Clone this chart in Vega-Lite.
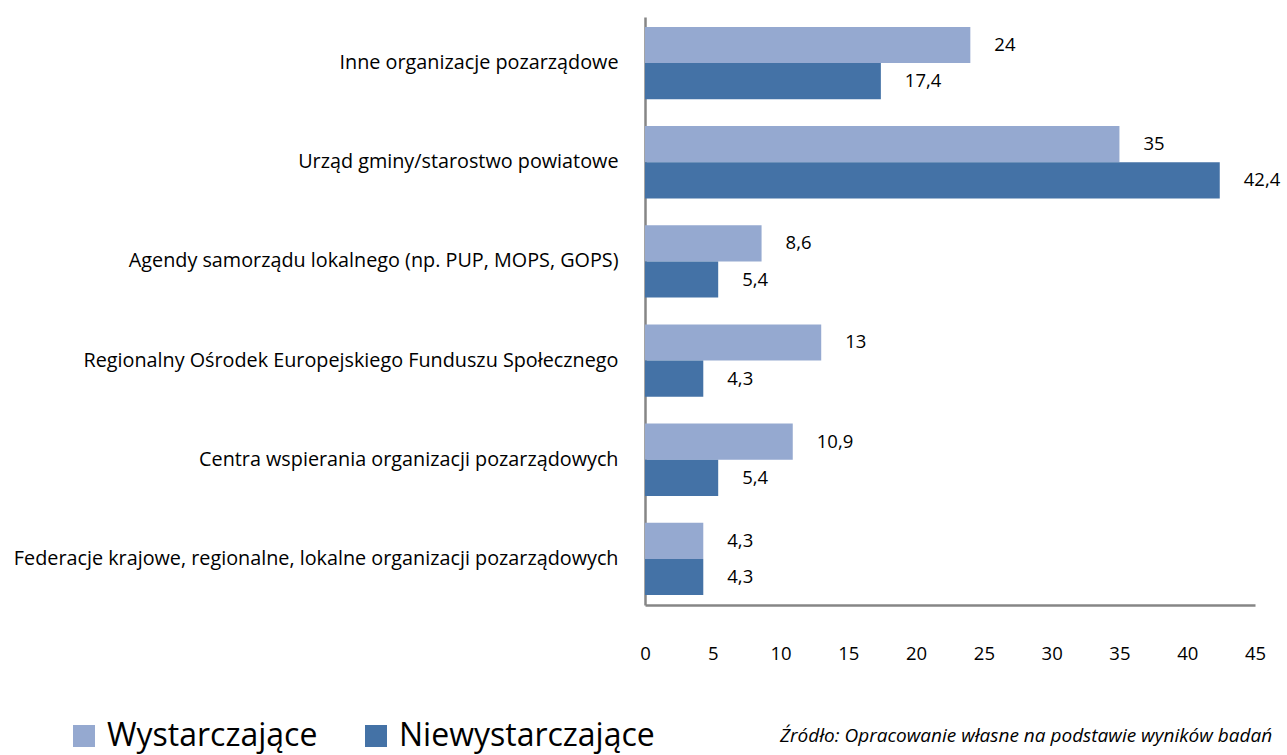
{
  "$schema": "https://vega.github.io/schema/vega-lite/v6.json",
  "autosize": {"type": "none"},
  "padding": {"left": 645, "top": 17, "right": 32, "bottom": 150},
  "width": 610,
  "height": 588,
  "background": "white",
  "config": {
    "view": {"stroke": null},
    "font": "Open Sans",
    "locale": {"number": {"decimal": ",", "thousands": " ", "grouping": [3], "currency": ["", " zł"]}}
  },
  "title": {
    "text": "Źródło: Opracowanie własne na podstawie wyników badań",
    "orient": "bottom",
    "anchor": "start",
    "frame": "group",
    "dx": 135,
    "offset": -16,
    "baseline": "middle",
    "font": "Open Sans",
    "fontSize": 19,
    "fontStyle": "italic",
    "fontWeight": "normal",
    "color": "#000000"
  },
  "data": {
    "values": [
      {"instytucja": "Inne organizacje pozarządowe ", "ocena": "Wystarczające", "wartosc": 24},
      {"instytucja": "Inne organizacje pozarządowe ", "ocena": "Niewystarczające", "wartosc": 17.4},
      {"instytucja": "Urząd gminy/starostwo powiatowe", "ocena": "Wystarczające", "wartosc": 35},
      {"instytucja": "Urząd gminy/starostwo powiatowe", "ocena": "Niewystarczające", "wartosc": 42.4},
      {"instytucja": "Agendy samorządu lokalnego (np. PUP, MOPS, GOPS)", "ocena": "Wystarczające", "wartosc": 8.6},
      {"instytucja": "Agendy samorządu lokalnego (np. PUP, MOPS, GOPS)", "ocena": "Niewystarczające", "wartosc": 5.4},
      {"instytucja": "Regionalny Ośrodek Europejskiego Funduszu Społecznego ", "ocena": "Wystarczające", "wartosc": 13},
      {"instytucja": "Regionalny Ośrodek Europejskiego Funduszu Społecznego ", "ocena": "Niewystarczające", "wartosc": 4.3},
      {"instytucja": "Centra wspierania organizacji pozarządowych", "ocena": "Wystarczające", "wartosc": 10.9},
      {"instytucja": "Centra wspierania organizacji pozarządowych", "ocena": "Niewystarczające", "wartosc": 5.4},
      {"instytucja": "Federacje krajowe, regionalne, lokalne organizacji pozarządowych", "ocena": "Wystarczające", "wartosc": 4.3},
      {"instytucja": "Federacje krajowe, regionalne, lokalne organizacji pozarządowych", "ocena": "Niewystarczające", "wartosc": 4.3}
    ]
  },
  "encoding": {
    "y": {
      "field": "instytucja",
      "type": "nominal",
      "sort": null,
      "scale": {"paddingInner": 0.27, "paddingOuter": 0.1},
      "axis": {
        "title": null,
        "ticks": false,
        "labelFontSize": 19.8,
        "labelColor": "#000000",
        "labelPadding": 27,
        "labelLimit": 1000,
        "domainColor": "#868686",
        "domainWidth": 2.5
      }
    },
    "yOffset": {
      "field": "ocena",
      "type": "nominal",
      "sort": ["Wystarczające", "Niewystarczające"],
      "scale": {"paddingInner": 0, "paddingOuter": 0}
    },
    "x": {
      "field": "wartosc",
      "type": "quantitative",
      "scale": {"domain": [0, 45], "nice": false},
      "axis": {
        "title": null,
        "values": [0, 5, 10, 15, 20, 25, 30, 35, 40, 45],
        "grid": false,
        "ticks": false,
        "labelFontSize": 18.5,
        "labelColor": "#000000",
        "labelPadding": 39,
        "labelFlush": false,
        "domainColor": "#868686",
        "domainWidth": 2.5
      }
    }
  },
  "layer": [
    {
      "mark": {"type": "bar"},
      "encoding": {
        "color": {
          "field": "ocena",
          "type": "nominal",
          "sort": ["Wystarczające", "Niewystarczające"],
          "scale": {"domain": ["Wystarczające", "Niewystarczające"], "range": ["#95A9D0", "#4472A6"]},
          "legend": {
            "title": null,
            "orient": "none",
            "direction": "horizontal",
            "legendX": -577,
            "legendY": 703,
            "symbolType": "square",
            "symbolSize": 484,
            "symbolStrokeWidth": 0,
            "labelFontSize": 32,
            "labelColor": "#000000",
            "labelOffset": 7,
            "columnPadding": 42,
            "labelLimit": 400
          }
        }
      }
    },
    {
      "mark": {"type": "text", "align": "left", "baseline": "middle", "dx": 24, "fontSize": 18.5, "color": "#000000"},
      "encoding": {
        "text": {"field": "wartosc", "type": "quantitative", "format": ".3~g"}
      }
    }
  ]
}
